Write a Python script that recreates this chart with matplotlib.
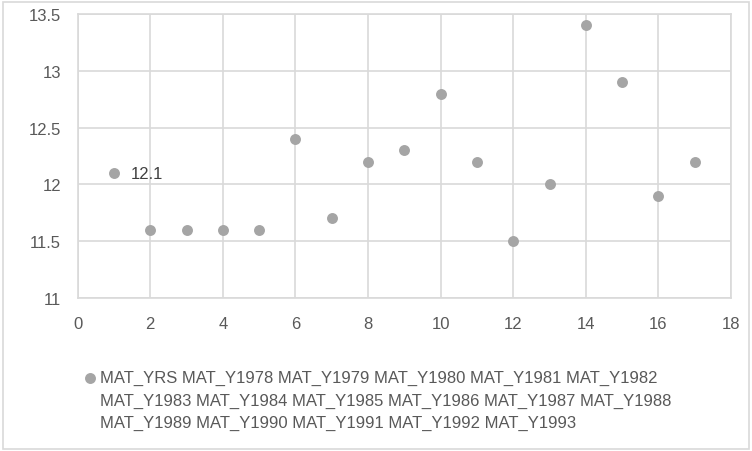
import matplotlib
matplotlib.use('Agg')
import matplotlib.pyplot as plt
from matplotlib.patches import Rectangle

# Data
x_vals = [1, 2, 3, 4, 5, 6, 7, 8, 9, 10, 11, 12, 13, 14, 15, 16, 17]
y_vals = [12.1, 11.6, 11.6, 11.6, 11.6, 12.4, 11.7, 12.2, 12.3, 12.8,
          12.2, 11.5, 12.0, 13.4, 12.9, 11.9, 12.2]
x_ticks = [0, 2, 4, 6, 8, 10, 12, 14, 16, 18]
y_ticks = [11, 11.5, 12, 12.5, 13, 13.5]
y_tick_labels = ['11', '11.5', '12', '12.5', '13', '13.5']
legend_lines = ['MAT_YRS MAT_Y1978 MAT_Y1979 MAT_Y1980 MAT_Y1981 MAT_Y1982',
                'MAT_Y1983 MAT_Y1984 MAT_Y1985 MAT_Y1986 MAT_Y1987 MAT_Y1988',
                'MAT_Y1989 MAT_Y1990 MAT_Y1991 MAT_Y1992 MAT_Y1993']

plt.rcParams['font.family'] = ['Liberation Sans', 'DejaVu Sans']

text_col = '#595959'
grid_col = '#D9D9D9'
point_col = '#A5A5A5'

W, H = 752, 452
fig = plt.figure(figsize=(W / 100, H / 100), dpi=100)
ax = fig.add_axes([77.7 / W, 1 - 299 / H, (731 - 77.7) / W, (299 - 15) / H])

ax.scatter(x_vals, y_vals, s=62, color=point_col, zorder=3, linewidths=0,
           label=legend_lines[0])
ax.annotate('12.1', (x_vals[0], y_vals[0]), xytext=(12, 0),
            textcoords='offset points', va='center', ha='left',
            fontsize=12, color='#404040')

ax.set_xlim(0, 18)
ax.set_ylim(11, 13.5)
ax.set_xticks(x_ticks)
ax.set_yticks(y_ticks)
ax.set_yticklabels(y_tick_labels)
ax.tick_params(length=0, labelsize=12, labelcolor=text_col)
ax.tick_params(axis='x', pad=13)
ax.tick_params(axis='y', pad=12)
ax.grid(True, color=grid_col, linewidth=1.2)
ax.set_axisbelow(True)
for sp in ax.spines.values():
    sp.set_color(grid_col)
    sp.set_linewidth(1.2)

# Legend: marker with first line, remaining lines as text below
leg = fig.legend(loc='upper left', bbox_to_anchor=(82 / W, 1 - 371 / H),
                 frameon=False, fontsize=12, handletextpad=0.1,
                 borderpad=0, borderaxespad=0, handlelength=1.0,
                 labelcolor=text_col)
fig.canvas.draw()
bb = leg.get_texts()[0].get_window_extent()
fig.text(bb.x0 / W, bb.y0 / H - 8 / H, '\n'.join(legend_lines[1:]),
         ha='left', va='top', fontsize=12, color=text_col, linespacing=1.56)

# Outer chart border
fig.patches.append(Rectangle((3 / W, 2 / H), (749 - 3) / W, (449 - 2) / H,
                             transform=fig.transFigure, fill=False,
                             edgecolor=grid_col, linewidth=1.2))

fig.savefig('out.png', dpi=100)
